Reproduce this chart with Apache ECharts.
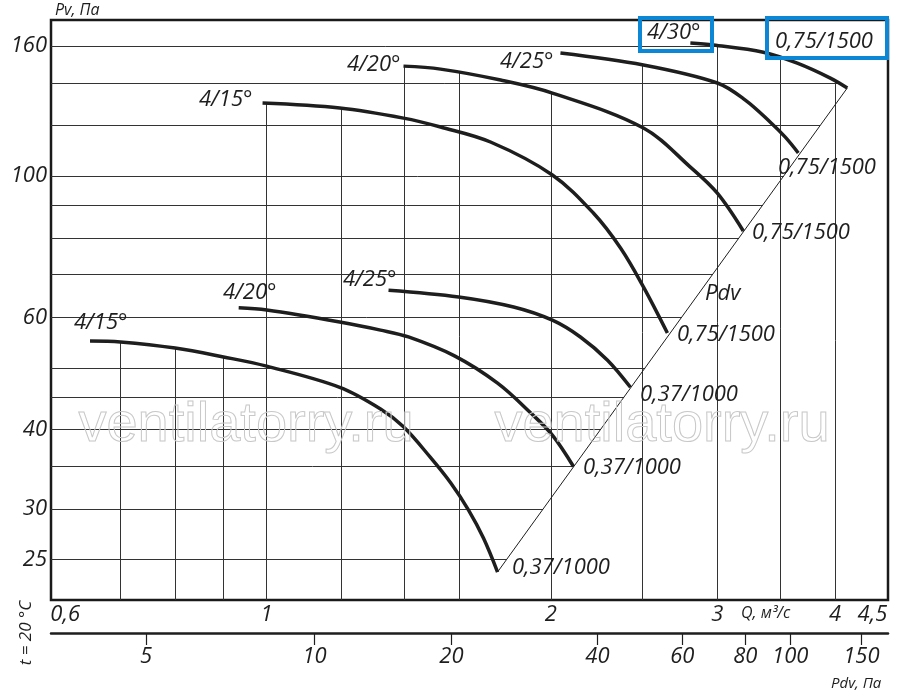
<!DOCTYPE html>
<html lang="ru">
<head>
    <meta charset="UTF-8">
    <meta name="viewport" content="width=device-width, initial-scale=1.0">
    <title>Pv - Q</title>
    <style type="text/css">
        html,
        body,
        .canvas {
            padding: 0;
            margin: 0;
            overflow: hidden;
            background-color: #fff;
            width: 100%;
            height: 100%;
        }
    </style>
</head>
<body>
<div class="canvas" id="fanChart"></div>
<script type="text/javascript" src="https://cdn.jsdelivr.net/npm/echarts@6.0.0/dist/echarts.min.js"></script>
<script>
    // curves, Q in m3/s and Pv in Pa
    const lowQ15 = [0.65, 0.70, 0.80, 0.90, 1.00, 1.195, 1.32, 1.396, 1.49, 1.566, 1.636, 1.697, 1.756];
    const lowP15 = [55.1, 54.9, 53.7, 52.0, 50.3, 46.6, 43.1, 40.4, 36.2, 33.0, 29.9, 27.0, 23.9];
    const lowQ20 = [0.934, 1.00, 1.195, 1.32, 1.413, 1.581, 1.756, 1.903, 2.007, 2.113];
    const lowP20 = [62.1, 61.6, 59.0, 57.3, 55.9, 52.2, 47.3, 42.5, 39.2, 35.0];
    const lowQ25 = [1.346, 1.597, 1.826, 2.007, 2.149, 2.296, 2.428];
    const lowP25 = [66.2, 64.6, 62.3, 59.4, 55.9, 51.4, 46.6];
    const upQ15 = [0.99, 1.195, 1.396, 1.528, 1.726, 2.007, 2.218, 2.37, 2.506, 2.657];
    const upP15 = [130.2, 127.9, 123.3, 119.4, 113.1, 100.4, 87.5, 77.1, 67.0, 56.7];
    const upQ20 = [1.396, 1.528, 1.769, 2.007, 2.506, 2.81, 3.001, 3.197];
    const upP20 = [148.8, 147.2, 141.5, 135.0, 119.0, 103.3, 94.0, 82.0];
    const upQ25 = [2.047, 2.506, 3.001, 3.213, 3.415, 3.542, 3.656];
    const upP25 = [156.0, 149.4, 140.0, 131.6, 121.5, 115.1, 108.7];
    const upQ30 = [2.81, 2.972, 3.357, 3.647, 3.953, 4.12];
    const upP30 = [161.8, 160.6, 156.5, 150.4, 142.5, 137.5];

    // dynamic pressure line (Pdv)
    const pdvQ = [1.756, 4.12];
    const pdvP = [23.9, 137.5];

    // axes
    const qTicks = [0.6, 1, 2, 3, 4, 4.5];
    const pvTicks = [25, 30, 40, 60, 100, 160];
    const pdvTicks = [5, 10, 20, 40, 60, 80, 100, 150];
    const pdvTickQ = [0.745, 1.124, 1.569, 2.24, 2.755, 3.213, 3.585, 4.264];
    const gridQ = [0.7, 0.8, 0.9, 1, 1.2, 1.4, 1.6, 2, 2.5, 3, 3.5, 4];
    const gridP = [25, 30, 35, 40, 45, 50, 60, 70, 80, 90, 100, 120, 140, 160];
    const qMin = 0.591, qMax = 4.55, pMin = 21.6, pMax = 175.8;

    const curves = [
        {q: lowQ15, p: lowP15, name: '4/15°', end: '0,37/1000'},
        {q: lowQ20, p: lowP20, name: '4/20°', end: '0,37/1000'},
        {q: lowQ25, p: lowP25, name: '4/25°', end: '0,37/1000'},
        {q: upQ15, p: upP15, name: '4/15°', end: '0,75/1500'},
        {q: upQ20, p: upP20, name: '4/20°', end: '0,75/1500'},
        {q: upQ25, p: upP25, name: '4/25°', end: '0,75/1500'},
        {q: upQ30, p: upP30, name: '4/30°', end: '0,75/1500'}
    ];

    const FONT = '"Open Sans", "DejaVu Sans", sans-serif';
    const INK = '#1e1e1e';

    function zip(a, b) {
        return a.map(function (v, i) {
            return [v, b[i]];
        });
    }

    // value of a curve at q, straight segments in log-log
    function curveAt(c, q) {
        const qs = c.q, ps = c.p;
        if (q < qs[0] || q > qs[qs.length - 1]) return null;
        for (let i = 1; i < qs.length; i++) {
            if (q <= qs[i]) {
                const t = Math.log(q / qs[i - 1]) / Math.log(qs[i] / qs[i - 1]);
                return Math.exp(Math.log(ps[i - 1]) + t * Math.log(ps[i] / ps[i - 1]));
            }
        }
        return null;
    }

    function envelope(q) {
        let top = null;
        curves.forEach(function (c) {
            const v = curveAt(c, q);
            if (v !== null && (top === null || v > top)) top = v;
        });
        return top;
    }

    // furthest q where some curve is still above p
    function rightEnd(p) {
        let best = qMin;
        curves.forEach(function (c) {
            const qs = c.q, ps = c.p, n = qs.length;
            let r = null;
            if (ps[n - 1] >= p) {
                r = qs[n - 1];
            } else if (ps[0] >= p) {
                for (let i = 1; i < n; i++) {
                    if (ps[i] < p) {
                        const t = Math.log(p / ps[i - 1]) / Math.log(ps[i] / ps[i - 1]);
                        r = Math.exp(Math.log(qs[i - 1]) + t * Math.log(qs[i] / qs[i - 1]));
                        break;
                    }
                }
            }
            if (r !== null && r > best) best = r;
        });
        return best;
    }

    function diagQ(p) {
        const t = Math.log(p / pdvP[0]) / Math.log(pdvP[1] / pdvP[0]);
        return Math.exp(Math.log(pdvQ[0]) + t * Math.log(pdvQ[1] / pdvQ[0]));
    }

    const gridLines = [];
    gridQ.forEach(function (q) {
        gridLines.push({coords: [[q, pMin], [q, envelope(q)]]});
    });
    gridP.forEach(function (p) {
        gridLines.push({coords: [[qMin, p], [Math.min(diagQ(p), rightEnd(p)), p]]});
    });

    function text(str, x, y, size, extra) {
        return Object.assign({
            type: 'text',
            x: x,
            y: y,
            z: 20,
            style: {
                text: str,
                fill: INK,
                font: 'italic ' + size + 'px ' + FONT,
                textAlign: 'left',
                textVerticalAlign: 'middle'
            }
        }, extra || {});
    }

    function box(x, y, w, h) {
        return {
            type: 'rect',
            z: 30,
            shape: {x: x, y: y, width: w, height: h},
            style: {fill: 'none', stroke: '#0b87d6', lineWidth: 4}
        };
    }

    function watermark(cx) {
        return {
            type: 'text',
            x: cx,
            y: 426,
            z: 15,
            style: {
                text: 'ventilatorry.ru',
                fill: 'none',
                stroke: '#c8c8c8',
                lineWidth: 1,
                font: '56px "Liberation Sans Narrow", "Liberation Sans", sans-serif',
                textAlign: 'center',
                textVerticalAlign: 'middle'
            }
        };
    }

    // where the names sit next to the curves (px)
    const namePos = [[74, 323], [223, 293], [343, 280], [199, 100], [347, 65], [500, 62], [647, 33]];
    const endPos = [[512, 568], [583, 468], [640, 395], [677, 335], [752, 233], [778, 168], [775, 42]];

    const graphics = [
        watermark(246),
        watermark(662),
        text('Pv, Па', 55, 10, 16),
        text('Pdv', 705, 294, 22),
        text('Q, м³/с', 741, 613, 16),
        text('Pdv, Па', 831, 684, 15),
        text('t = 20 °C', 26, 633, 17, {rotation: Math.PI / 2, style: {
            text: 't = 20 °C', fill: INK, font: 'italic 17px ' + FONT,
            textAlign: 'center', textVerticalAlign: 'middle'
        }}),
        box(640, 18, 72, 33),
        box(767, 18, 120, 40)
    ];
    curves.forEach(function (c, i) {
        graphics.push(text(c.name, namePos[i][0], namePos[i][1], 22));
        graphics.push(text(c.end, endPos[i][0], endPos[i][1], 22));
    });

    const series = [{
        type: 'lines',
        coordinateSystem: 'cartesian2d',
        silent: true,
        z: 1,
        lineStyle: {color: '#333', width: 1, opacity: 1},
        data: gridLines
    }, {
        type: 'line',
        silent: true,
        z: 2,
        symbol: 'none',
        lineStyle: {color: INK, width: 1},
        data: zip(pdvQ, pdvP)
    }];
    curves.forEach(function (c) {
        series.push({
            type: 'line',
            name: c.name,
            silent: true,
            z: 3,
            symbol: 'none',
            smooth: 0.35,
            lineStyle: {color: INK, width: 3.5},
            data: zip(c.q, c.p)
        });
    });

    const labelFont = {
        color: INK,
        fontSize: 22,
        fontStyle: 'italic',
        fontFamily: FONT
    };

    const option = {
        animation: false,
        backgroundColor: '#fff',
        grid: {
            left: 51,
            right: 12,
            top: 20,
            bottom: 97,
            show: true,
            borderColor: '#1a1a1a',
            borderWidth: 2.5
        },
        xAxis: [{
            type: 'log',
            min: qMin,
            max: qMax,
            axisLine: {show: false, onZero: false},
            axisTick: {show: false},
            splitLine: {show: false},
            minorTick: {show: false},
            axisLabel: Object.assign({
                customValues: qTicks,
                margin: 4,
                formatter: function (v) {
                    const s = String(Math.round(v * 10) / 10).replace('.', ',');
                    if (v < 0.7) return '{first|' + s + '}';
                    if (v > 4.2) return '{last|' + s + '}';
                    return s;
                },
                rich: {
                    first: Object.assign({padding: [0, 0, 0, 16]}, labelFont),
                    last: Object.assign({padding: [0, 22, 0, 0]}, labelFont)
                }
            }, labelFont)
        }, {
            type: 'log',
            min: qMin,
            max: qMax,
            position: 'bottom',
            offset: 33,
            axisLine: {show: true, onZero: false, lineStyle: {color: INK, width: 2.5}},
            axisTick: {show: true, customValues: pdvTickQ, length: 12, lineStyle: {color: INK, width: 1.2}},
            splitLine: {show: false},
            minorTick: {show: false},
            axisLabel: Object.assign({
                customValues: pdvTickQ,
                margin: 13,
                formatter: function (v) {
                    let k = 0;
                    pdvTickQ.forEach(function (t, i) {
                        if (Math.abs(t - v) < Math.abs(pdvTickQ[k] - v)) k = i;
                    });
                    return String(pdvTicks[k]);
                }
            }, labelFont)
        }],
        yAxis: {
            type: 'log',
            min: pMin,
            max: pMax,
            axisLine: {show: false},
            axisTick: {show: false},
            splitLine: {show: false},
            minorTick: {show: false},
            axisLabel: Object.assign({
                customValues: pvTicks,
                margin: 4
            }, labelFont)
        },
        graphic: graphics,
        series: series
    };

    let chart = echarts.init(document.getElementById('fanChart'));
    chart.setOption(option);
</script>
</body>
</html>
